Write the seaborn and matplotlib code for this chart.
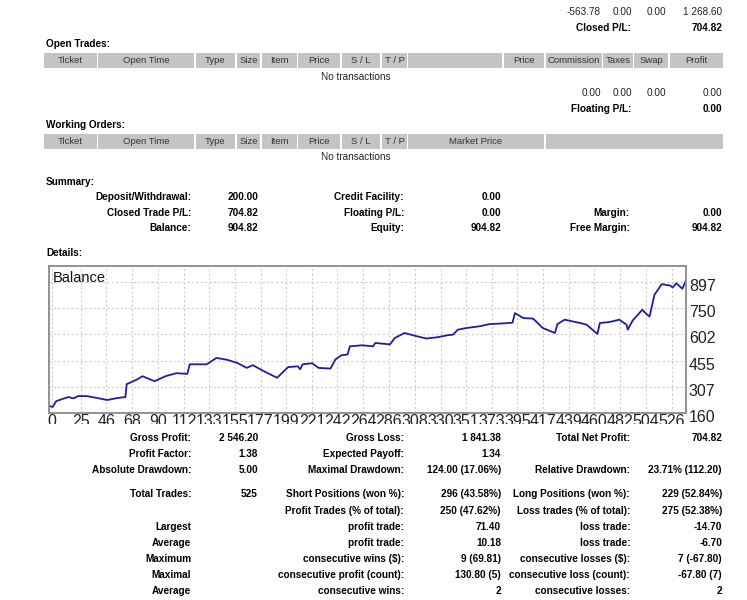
import matplotlib
matplotlib.use("Agg")
import matplotlib.pyplot as plt
import matplotlib.transforms as mtransforms
from matplotlib.patches import Rectangle
import seaborn as sns

# balance curve (trade number, balance)
trade_no = [0, 3, 6, 16, 20, 24, 31, 40, 48, 56, 63, 64, 73, 77, 87, 96, 105, 114,
            116, 130, 138, 147, 155, 163, 168, 176, 188, 197, 205, 207, 209, 217,
            222, 232, 236, 241, 246, 248, 258, 267, 269, 281, 285, 293, 303, 311,
            320, 328, 333, 337, 344, 355, 363, 374, 382, 384, 391, 399, 407, 417,
            419, 425, 431, 438, 443, 452, 454, 462, 470, 476, 477, 481, 489, 493,
            495, 499, 505, 512, 514, 517, 522, 525]
balance = [200, 194, 227, 250, 242, 255, 255, 244, 233, 244, 250, 322, 350, 367,
           339, 367, 384, 380, 434, 434, 470, 459, 442, 414, 429, 399, 358, 418,
           423, 406, 434, 440, 414, 410, 461, 485, 489, 535, 541, 535, 554, 546,
           582, 610, 592, 579, 586, 597, 601, 629, 638, 648, 660, 664, 668, 722,
           694, 691, 638, 610, 660, 685, 676, 666, 657, 605, 666, 672, 685, 657,
           629, 680, 741, 713, 703, 825, 885, 877, 866, 890, 859, 904.82]

x_tick_values = [0, 25, 46, 68, 90, 112, 133, 155, 177, 199, 221, 242, 264, 286,
                 308, 330, 351, 373, 395, 417, 439, 460, 482, 504, 526]
y_tick_values = [160, 307, 455, 602, 750, 897]

top_numbers = ["-563.78", "0.00", "0.00", "1 268.60"]
floating_numbers = ["0.00", "0.00", "0.00", "0.00"]

open_trade_headers = ["Ticket", "Open Time", "Type", "Size", "Item", "Price", "S / L",
                      "T / P", "", "Price", "Commission", "Taxes", "Swap", "Profit"]
working_order_headers = ["Ticket", "Open Time", "Type", "Size", "Item", "Price",
                         "S / L", "T / P", "Market Price", ""]

summary_rows = [
    ["Deposit/Withdrawal:", "200.00", "Credit Facility:", "0.00", "", ""],
    ["Closed Trade P/L:", "704.82", "Floating P/L:", "0.00", "Margin:", "0.00"],
    ["Balance:", "904.82", "Equity:", "904.82", "Free Margin:", "904.82"],
]

stats_rows = [
    ["Gross Profit:", "2 546.20", "Gross Loss:", "1 841.38", "Total Net Profit:", "704.82"],
    ["Profit Factor:", "1.38", "Expected Payoff:", "1.34", "", ""],
    ["Absolute Drawdown:", "5.00", "Maximal Drawdown:", "124.00 (17.06%)",
     "Relative Drawdown:", "23.71% (112.20)"],
    ["Total Trades:", "525", "Short Positions (won %):", "296 (43.58%)",
     "Long Positions (won %):", "229 (52.84%)"],
    ["", "", "Profit Trades (% of total):", "250 (47.62%)",
     "Loss trades (% of total):", "275 (52.38%)"],
    ["Largest", "", "profit trade:", "71.40", "loss trade:", "-14.70"],
    ["Average", "", "profit trade:", "10.18", "loss trade:", "-6.70"],
    ["Maximum", "", "consecutive wins ($):", "9 (69.81)",
     "consecutive losses ($):", "7 (-67.80)"],
    ["Maximal", "", "consecutive profit (count):", "130.80 (5)",
     "consecutive loss (count):", "-67.80 (7)"],
    ["Average", "", "consecutive wins:", "2", "consecutive losses:", "2"],
]

W, H = 747, 600
sns.set_style("white")
plt.rcParams["font.family"] = ["Liberation Sans", "DejaVu Sans"]

fig = plt.figure(figsize=(W / 100, H / 100), dpi=100)
fig.patch.set_facecolor("white")


def put(x, y, s, ha="left", bold=False, size=7.2, color="black"):
    fig.text(x / W, 1 - y / H, s, ha=ha, va="center", fontsize=size,
             fontweight="bold" if bold else "normal", color=color)


def header_row(y0, y1, cells):
    for (x0, x1), label in cells:
        fig.patches.append(Rectangle((x0 / W, 1 - y1 / H), (x1 - x0) / W, (y1 - y0) / H,
                                     transform=fig.transFigure, facecolor="#c4c4c4",
                                     edgecolor="none"))
        if label:
            put((x0 + x1) / 2, (y0 + y1) / 2, label, ha="center", size=6.8, color="#333333")


first_cols = [(44, 97), (98, 194), (196, 235), (237, 260), (262, 297), (298, 340),
              (342, 380), (382, 407)]
open_cols = first_cols + [(408, 502), (504, 544), (546, 602), (603, 633), (634, 668), (670, 723)]
work_cols = first_cols + [(408, 544), (546, 723)]

# top block
for xr, s in zip([601, 632, 666, 722], top_numbers):
    put(xr, 12, s, ha="right", color="#222222")
put(631, 28, "Closed P/L:", ha="right", bold=True)
put(722, 28, "704.82", ha="right", bold=True)

put(46, 44, "Open Trades:", bold=True)
header_row(53, 68, zip(open_cols, open_trade_headers))
put(356, 77, "No transactions", ha="center", color="#222222")
for xr, s in zip([601, 632, 666, 722], floating_numbers):
    put(xr, 93, s, ha="right", color="#222222")
put(631, 109, "Floating P/L:", ha="right", bold=True)
put(722, 109, "0.00", ha="right", bold=True)

put(46, 125, "Working Orders:", bold=True)
header_row(134, 149, zip(work_cols, working_order_headers))
put(356, 157, "No transactions", ha="center", color="#222222")

# summary
put(46, 182, "Summary:", bold=True)
col_right = [191, 258, 404, 501, 630, 722]
for y, row in zip([197, 213, 228], summary_rows):
    for xr, s in zip(col_right, row):
        if s:
            put(xr, y, s, ha="right", bold=True)

put(46, 253, "Details:", bold=True)

# balance chart
ax = fig.add_axes([49 / W, 1 - 413 / H, 637 / W, 147 / H])
sns.lineplot(x=trade_no, y=balance, ax=ax, color="#1f1f9c", linewidth=1.3)
ax.set_xlim(0, 525)
ax.set_ylim(160, 987)
ax.set_yticks(y_tick_values)
ax.set_yticklabels([str(v) for v in y_tick_values])
ax.yaxis.tick_right()
ax.tick_params(axis="y", length=0, pad=2, labelsize=11.5, labelcolor="#222222")
ax.set_xticks([])
ax.grid(True, axis="y", linestyle=(0, (2, 2)), color="#cccccc", linewidth=0.8)
ax.set_xlabel("")
ax.set_ylabel("")
for sp in ax.spines.values():
    sp.set_color("#8a8a8a")
    sp.set_linewidth(1.3)
shift = mtransforms.ScaledTranslation(0, -3 / 100, fig.dpi_scale_trans)
for lbl in ax.get_yticklabels():
    lbl.set_transform(lbl.get_transform() + shift)
ax.text(0.006, 0.965, "Balance", transform=ax.transAxes, ha="left", va="top",
        fontsize=10.5, color="#111111")

# x labels on their own scale
ax2 = ax.twiny()
ax2.set_xlim(-2.5, 538)
ax2.xaxis.set_ticks_position("bottom")
ax2.set_xticks(x_tick_values)
ax2.set_xticklabels([str(v) for v in x_tick_values])
ax2.tick_params(axis="x", length=0, pad=1, labelsize=11.5, labelcolor="#222222")
ax2.grid(True, axis="x", linestyle=(0, (2, 2)), color="#cccccc", linewidth=0.8)
ax2.set_axisbelow(True)
ax.set_zorder(ax2.get_zorder() + 1)
ax.patch.set_visible(False)
for sp in ax2.spines.values():
    sp.set_visible(False)
clip = mtransforms.TransformedBbox(mtransforms.Bbox([[0, 1 - 424 / H], [1, 1]]),
                                   fig.transFigure)
for lbl in ax2.get_xticklabels():
    lbl.set_clip_box(clip)
    lbl.set_clip_on(True)

# statistics
stats_y = [438, 454, 470, 494, 511, 527, 543, 559, 575, 591]
for y, row in zip(stats_y, stats_rows):
    for xr, s in zip(col_right, row):
        if s:
            put(xr, y, s, ha="right", bold=True)

fig.savefig("out.png", dpi=100, facecolor="white")
